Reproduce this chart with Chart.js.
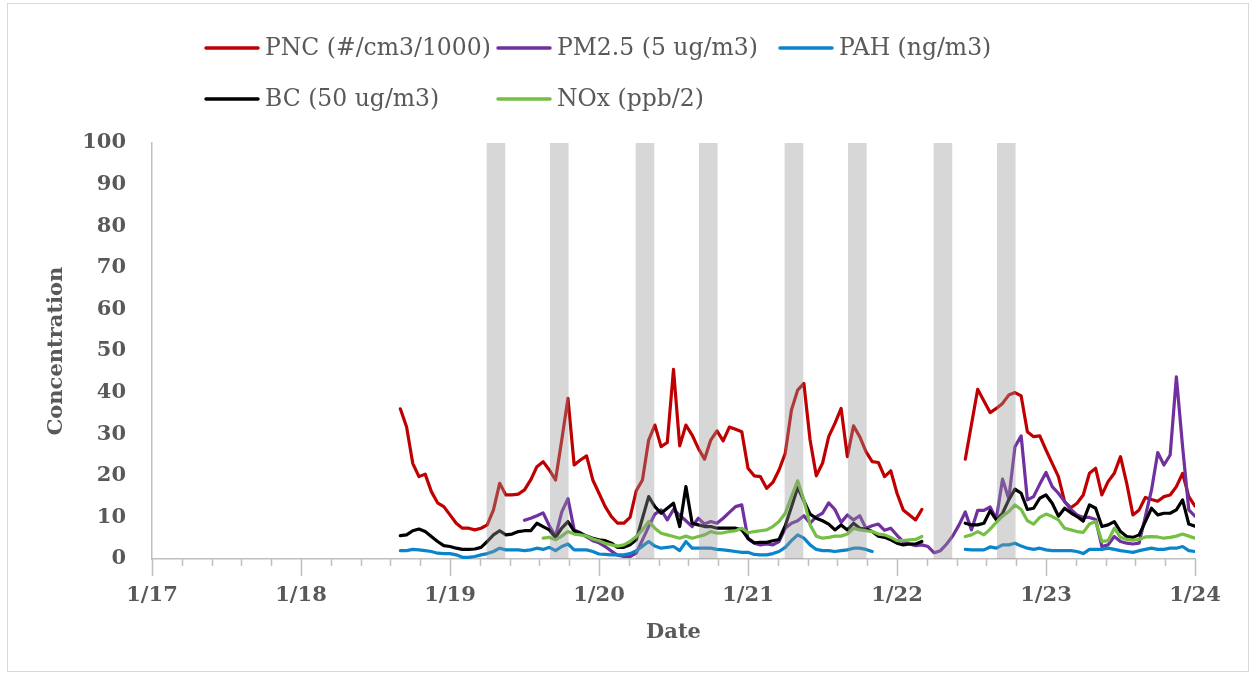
<!DOCTYPE html>
<html>
<head>
<meta charset="utf-8">
<script src="https://cdn.jsdelivr.net/npm/chart.js@4.4.1/dist/chart.umd.min.js"></script>
<style>
  html, body { margin: 0; padding: 0; background: #ffffff; }
  #wrap { position: relative; width: 1253px; height: 675px; }
  canvas { display: block; }
</style>
</head>
<body>
<div id="wrap"><canvas id="c" width="1253" height="675"></canvas></div>
<script>
// ---- DATA (hourly, first value = hour 40 counted from 1/17 00:00) ----
const startHour = 40;
const dayLabels = ['1/17', '1/18', '1/19', '1/20', '1/21', '1/22', '1/23', '1/24'];
const yTicks = [0, 10, 20, 30, 40, 50, 60, 70, 80, 90, 100];
const seriesNames = ['PNC (#/cm3/1000)', 'PM2.5 (5 ug/m3)', 'PAH (ng/m3)', 'BC (50 ug/m3)', 'NOx (ppb/2)'];

const pnc = [
  36.1, 31.8, 23.0, 19.8, 20.4, 16.2, 13.5, 12.6, 10.6, 8.6,
  7.4, 7.4, 7.0, 7.4, 8.2, 11.8, 18.2, 15.4, 15.4, 15.6,
  16.6, 19.0, 22.2, 23.4, 21.4, 19.0, 28.6, 38.6, 22.6, 23.8,
  24.8, 19.0, 15.8, 12.6, 10.2, 8.6, 8.6, 10.0, 16.4, 19.0,
  28.6, 32.2, 27.0, 28.0, 45.6, 27.2, 32.2, 29.8, 26.6, 24.0,
  28.6, 30.8, 28.4, 31.7, 31.2, 30.6, 21.8, 20.0, 19.8, 17.0,
  18.4, 21.4, 25.4, 35.8, 40.6, 42.2, 28.6, 20.0, 23.0, 29.4,
  32.6, 36.2, 24.6, 32.0, 29.4, 25.8, 23.4, 23.2, 19.8, 21.2,
  15.8, 11.8, 10.6, 9.4, 11.9, null, null, null, null, null,
  null, 24.0, 32.4, 40.8, 38.0, 35.2, 36.2, 37.4, 39.4, 40.0,
  39.2, 30.6, 29.4, 29.6, 26.2, 23.0, 19.8, 13.8, 12.3, 13.4,
  15.4, 20.6, 21.8, 15.4, 18.6, 20.6, 24.6, 18.2, 10.6, 11.8,
  14.8, 14.3, 13.9, 15.0, 15.4, 17.4, 20.6, 15.0, 12.7
];

const pm25 = [
  null, null, null, null, null, null, null, null, null, null,
  null, null, null, null, null, null, null, null, null, null,
  9.3, 9.8, 10.4, 11.1, 8.0, 5.5, 11.3, 14.5, 7.0, 6.3,
  5.3, 4.4, 3.9, 3.0, 1.9, 0.9, 0.6, 0.6, 1.4, 4.6,
  7.8, 10.8, 11.8, 9.4, 11.9, 10.5, 9.2, 7.8, 9.8, 8.4,
  9.0, 8.6, 9.8, 11.2, 12.6, 13.0, 4.8, 3.8, 3.4, 3.6,
  3.4, 4.2, 7.4, 8.6, 9.2, 10.4, 8.6, 10.2, 11.0, 13.5,
  11.9, 8.8, 10.6, 9.4, 10.4, 7.4, 8.0, 8.4, 6.9, 7.4,
  5.7, 4.2, 3.6, 3.2, 3.4, 3.0, 1.5, 2.0, 3.6, 5.6,
  8.2, 11.3, 7.0, 11.7, 11.7, 12.5, 9.6, 19.2, 14.4, 27.0,
  29.6, 14.2, 15.0, 18.0, 20.8, 17.4, 15.8, 13.8, 11.9, 10.6,
  10.0, 10.0, 9.5, 3.0, 3.4, 5.4, 4.2, 3.8, 3.6, 3.8,
  10.2, 16.6, 25.6, 22.6, 25.0, 43.8, 27.0, 11.8, 10.3
];

const pah = [
  2.0, 2.0, 2.3, 2.2, 2.0, 1.8, 1.4, 1.3, 1.3, 1.0,
  0.4, 0.4, 0.6, 1.0, 1.3, 1.8, 2.6, 2.2, 2.2, 2.2,
  2.0, 2.2, 2.6, 2.3, 2.8, 2.0, 3.0, 3.6, 2.2, 2.2,
  2.2, 1.8, 1.2, 1.1, 1.0, 1.0, 1.0, 1.3, 2.0, 3.1,
  4.2, 3.1, 2.6, 2.8, 3.0, 2.0, 4.2, 2.6, 2.6, 2.6,
  2.6, 2.3, 2.2, 2.0, 1.8, 1.6, 1.6, 1.1, 1.0, 1.0,
  1.3, 1.8, 2.8, 4.4, 5.8, 5.0, 3.4, 2.3, 2.0, 2.0,
  1.8, 2.0, 2.2, 2.6, 2.6, 2.3, 1.8, null, null, null,
  null, null, null, null, null, null, null, null, null, null,
  null, 2.3, 2.2, 2.2, 2.2, 2.9, 2.6, 3.4, 3.4, 3.8,
  3.1, 2.6, 2.3, 2.6, 2.2, 2.0, 2.0, 2.0, 2.0, 1.8,
  1.3, 2.3, 2.3, 2.3, 2.6, 2.3, 2.0, 1.8, 1.6, 2.0,
  2.3, 2.6, 2.3, 2.3, 2.6, 2.6, 3.0, 2.0, 1.8
];

const bc = [
  5.6, 5.8, 6.8, 7.2, 6.6, 5.4, 4.2, 3.2, 3.0, 2.6,
  2.3, 2.3, 2.4, 2.8, 4.2, 5.8, 6.8, 5.8, 6.0, 6.6,
  6.8, 6.8, 8.6, 7.8, 7.0, 5.2, 7.4, 9.0, 6.7, 6.2,
  5.5, 5.0, 4.6, 4.4, 3.8, 2.8, 2.8, 3.4, 4.6, 9.8,
  15.0, 12.6, 11.0, 12.2, 13.4, 7.8, 17.4, 8.6, 8.2, 7.8,
  7.8, 7.4, 7.4, 7.4, 7.4, 7.0, 5.0, 3.9, 4.0, 4.0,
  4.4, 4.7, 8.0, 12.5, 17.2, 14.0, 10.8, 9.8, 9.2, 8.4,
  7.0, 8.2, 7.0, 8.6, 7.4, 7.2, 6.6, 5.5, 5.2, 4.6,
  3.8, 3.4, 3.6, 3.6, 4.2, null, null, null, null, null,
  null, 8.6, 8.2, 8.2, 8.6, 11.6, 9.4, 11.0, 14.2, 16.8,
  15.8, 11.9, 12.2, 14.6, 15.4, 13.4, 10.3, 12.2, 11.1, 10.2,
  9.1, 13.0, 12.2, 7.8, 8.2, 9.0, 6.6, 5.4, 5.2, 5.8,
  9.0, 12.2, 10.6, 11.0, 11.0, 11.8, 14.2, 8.4, 7.9
];

const nox = [
  null, null, null, null, null, null, null, null, null, null,
  null, null, null, null, null, null, null, null, null, null,
  null, null, null, 5.0, 5.2, 4.6, 5.5, 6.6, 6.0, 5.8,
  5.5, 4.8, 4.4, 3.8, 3.4, 3.1, 3.4, 4.2, 5.4, 7.0,
  9.0, 7.4, 6.2, 5.8, 5.4, 5.0, 5.5, 5.0, 5.4, 5.8,
  6.6, 6.2, 6.3, 6.6, 6.8, 7.4, 6.3, 6.6, 6.8, 7.0,
  7.8, 9.0, 11.0, 15.0, 18.8, 14.2, 8.2, 5.5, 5.0, 5.2,
  5.5, 5.5, 6.0, 7.4, 7.0, 6.8, 6.6, 6.0, 5.8, 5.2,
  4.4, 4.4, 4.6, 4.7, 5.4, null, null, null, null, null,
  null, 5.4, 5.8, 6.6, 5.8, 7.2, 8.8, 10.3, 11.4, 13.0,
  11.9, 9.2, 8.4, 10.0, 10.8, 10.2, 9.4, 7.4, 7.0, 6.6,
  6.4, 8.4, 9.0, 4.2, 4.4, 7.4, 5.2, 4.7, 4.5, 4.7,
  5.3, 5.4, 5.3, 5.0, 5.2, 5.5, 6.0, 5.5, 5.0
];

// rush-hour shading: days (1/19..1/22) and hour-of-day windows
const bandDays = ['1/19', '1/20', '1/21', '1/22'];
const bandWindows = [[5.9, 8.9], [16.1, 19.1]];

// ---- build chart ----
const FONT = "'DejaVu Serif', 'Liberation Serif', serif";
const TXT = '#595959';
const AXIS = '#BFBFBF';
const colors = ['#C00000', '#7030A0', '#0A85CC', '#000000', '#76BF45'];
const drawOrder = [5, 4, 3, 2, 1];
const seriesValues = [pnc, pm25, pah, bc, nox];

const datasets = seriesValues.map((vals, k) => ({
  label: seriesNames[k],
  data: vals.map((v, i) => ({ x: startHour + i, y: v })),
  borderColor: colors[k],
  backgroundColor: colors[k],
  borderWidth: 3.2,
  pointRadius: 0,
  pointHoverRadius: 0,
  tension: 0,
  spanGaps: false,
  borderJoinStyle: 'round',
  borderCapStyle: 'round',
  order: drawOrder[k],
  fill: false
}));

const framePlugin = {
  id: 'frame',
  beforeDraw(chart) {
    const ctx = chart.ctx;
    ctx.save();
    ctx.fillStyle = '#ffffff';
    ctx.fillRect(0, 0, chart.width, chart.height);
    ctx.strokeStyle = '#D9D9D9';
    ctx.lineWidth = 1;
    ctx.strokeRect(7.5, 3.5, 1241, 668);
    ctx.restore();
  }
};

const bandPlugin = {
  id: 'bands',
  afterDatasetsDraw(chart) {
    const { ctx, chartArea } = chart;
    const xs = chart.scales.x;
    ctx.save();
    ctx.fillStyle = 'rgba(150,150,150,0.38)';
    bandDays.forEach(d => {
      const dayIdx = dayLabels.indexOf(d);
      bandWindows.forEach(([a, b]) => {
        const x1 = xs.getPixelForValue(dayIdx * 24 + a);
        const x2 = xs.getPixelForValue(dayIdx * 24 + b);
        ctx.fillRect(x1, chartArea.top, x2 - x1, chartArea.bottom - chartArea.top);
      });
    });
    ctx.restore();
  }
};

const tickPlugin = {
  id: 'xticks',
  afterDraw(chart) {
    const { ctx } = chart;
    const xs = chart.scales.x;
    const y0 = chart.chartArea.bottom;
    ctx.save();
    ctx.strokeStyle = AXIS;
    ctx.lineWidth = 1.5;
    const perDay = 5;
    const nDays = dayLabels.length - 1;
    for (let k = 0; k <= nDays * perDay; k++) {
      const px = Math.round(xs.getPixelForValue(k * 24 / perDay)) + 0.5;
      const len = (k % perDay === 0) ? 17 : 7;
      ctx.beginPath();
      ctx.moveTo(px, y0);
      ctx.lineTo(px, y0 + len);
      ctx.stroke();
    }
    ctx.restore();
  }
};

const legendPlugin = {
  id: 'gridLegend',
  afterDraw(chart, args, opts) {
    const { ctx } = chart;
    ctx.save();
    ctx.font = opts.font;
    ctx.textBaseline = 'middle';
    ctx.textAlign = 'left';
    chart.data.datasets.forEach((ds, i) => {
      const col = i % opts.cols.length;
      const row = Math.floor(i / opts.cols.length);
      const x = opts.cols[col];
      const y = opts.rows[row];
      ctx.strokeStyle = ds.borderColor;
      ctx.lineWidth = 3.5;
      ctx.lineCap = 'round';
      ctx.beginPath();
      ctx.moveTo(x, y);
      ctx.lineTo(x + opts.lineLen, y);
      ctx.stroke();
      ctx.fillStyle = TXT;
      ctx.fillText(ds.label, x + opts.lineLen + opts.gap, y + 1);
    });
    ctx.restore();
  }
};

new Chart(document.getElementById('c'), {
  type: 'line',
  data: { datasets },
  plugins: [framePlugin, bandPlugin, tickPlugin, legendPlugin],
  options: {
    responsive: false,
    animation: false,
    devicePixelRatio: 1,
    layout: { padding: { left: 0, right: 58, top: 143, bottom: 0 } },
    plugins: {
      legend: { display: false },
      tooltip: { enabled: false },
      gridLegend: {
        font: "23.5px " + FONT,
        cols: [206, 498, 780],
        rows: [48, 99],
        lineLen: 52,
        gap: 7
      }
    },
    scales: {
      x: {
        type: 'linear',
        min: 0,
        max: (dayLabels.length - 1) * 24,
        afterFit(scale) { scale.height = 116; },
        grid: { display: true, drawOnChartArea: false, drawTicks: false },
        border: { display: true, color: AXIS, width: 1.5 },
        ticks: {
          stepSize: 24,
          autoSkip: false,
          maxRotation: 0,
          padding: 24,
          color: TXT,
          font: { family: FONT, size: 21, weight: 'bold' },
          callback: (v) => dayLabels[Math.round(v / 24)]
        },
        title: {
          display: true,
          text: 'Date',
          color: TXT,
          font: { family: FONT, size: 21, weight: 'bold' },
          padding: { top: 0, bottom: 30 }
        }
      },
      y: {
        min: yTicks[0],
        max: yTicks[yTicks.length - 1],
        afterFit(scale) { scale.width = 152; },
        afterBuildTicks(scale) { scale.ticks = yTicks.map(v => ({ value: v })); },
        grid: { display: true, drawOnChartArea: false, drawTicks: false },
        border: { display: true, color: AXIS, width: 1.5 },
        ticks: {
          padding: 26,
          color: TXT,
          font: { family: FONT, size: 21, weight: 'bold' }
        },
        title: {
          display: true,
          text: 'Concentration',
          color: TXT,
          font: { family: FONT, size: 21, weight: 'bold' },
          padding: { top: 44, bottom: 0 }
        }
      }
    }
  }
});
</script>
</body>
</html>
